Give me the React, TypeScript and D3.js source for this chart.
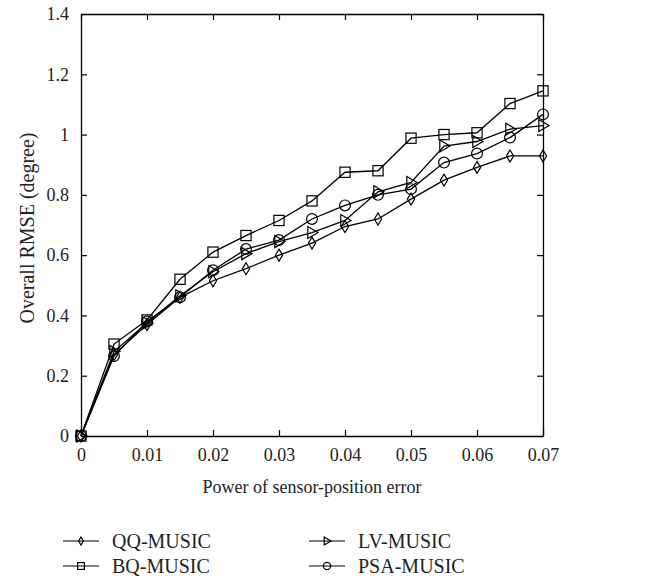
import React, { useRef, useEffect } from 'react';
import * as d3 from 'd3';

const xValues = [0, 0.005, 0.01, 0.015, 0.02, 0.025, 0.03, 0.035, 0.04, 0.045, 0.05, 0.055, 0.06, 0.065, 0.07];
const qqMusic = [0, 0.27, 0.37, 0.46, 0.515, 0.555, 0.6, 0.64, 0.695, 0.72, 0.786, 0.849, 0.891, 0.929, 0.929];
const bqMusic = [0, 0.305, 0.385, 0.52, 0.61, 0.665, 0.715, 0.78, 0.875, 0.88, 0.988, 1.0, 1.006, 1.103, 1.145];
const lvMusic = [0, 0.28, 0.375, 0.465, 0.545, 0.605, 0.645, 0.675, 0.715, 0.81, 0.841, 0.962, 0.977, 1.018, 1.03];
const psaMusic = [0, 0.265, 0.38, 0.46, 0.55, 0.62, 0.65, 0.72, 0.765, 0.8, 0.819, 0.907, 0.937, 0.99, 1.067];

const xTicks = [0, 0.01, 0.02, 0.03, 0.04, 0.05, 0.06, 0.07];
const yTicks = [0, 0.2, 0.4, 0.6, 0.8, 1, 1.2, 1.4];

const series = [
  { name: 'QQ-MUSIC', values: qqMusic, marker: 'diamond' },
  { name: 'BQ-MUSIC', values: bqMusic, marker: 'square' },
  { name: 'LV-MUSIC', values: lvMusic, marker: 'triangle' },
  { name: 'PSA-MUSIC', values: psaMusic, marker: 'circle' },
];

const FONT = '"Liberation Serif", "DejaVu Serif", serif';

// draws a marker centred on (0,0) inside g
function drawMarker(g: any, type: string, s: number) {
  const common = (sel: any) => sel.attr('fill', 'none').attr('stroke', '#000').attr('stroke-width', 1.2);
  if (type === 'diamond') {
    common(g.append('path').attr('d', `M0,${-s}L${s * 0.6},0L0,${s}L${-s * 0.6},0Z`));
  } else if (type === 'square') {
    common(g.append('rect').attr('x', -s * 0.85).attr('y', -s * 0.85).attr('width', s * 1.7).attr('height', s * 1.7));
  } else if (type === 'triangle') {
    common(g.append('path').attr('d', `M${-s * 0.7},${-s}L${s},0L${-s * 0.7},${s}Z`));
  } else {
    common(g.append('circle').attr('r', s * 0.9));
  }
}

const Chart = () => {
  const svgRef = useRef<SVGSVGElement>(null);

  useEffect(() => {
    const svg = d3.select(svgRef.current);
    svg.selectAll('*').remove();

    const left = 81, right = 543, top = 14, bottom = 436;

    const x = d3.scaleLinear().domain([0, 0.07]).range([left, right]);
    const y = d3.scaleLinear().domain([0, 1.4]).range([bottom, top]);

    const axisStyle = (g: any) => {
      g.select('.domain').attr('stroke', '#000').attr('stroke-width', 1.3);
      g.selectAll('.tick line').attr('stroke', '#000').attr('stroke-width', 1.2);
      g.selectAll('.tick text').attr('font-family', FONT).attr('font-size', 18).attr('fill', '#222');
    };

    svg.append('g')
      .attr('transform', `translate(0,${bottom})`)
      .call(d3.axisBottom(x).tickValues(xTicks).tickSizeInner(-6).tickSizeOuter(0).tickPadding(12).tickFormat((d: any) => (d === 0 ? '0' : d3.format('.2f')(d))))
      .call(axisStyle);

    svg.append('g')
      .attr('transform', `translate(0,${top})`)
      .call(d3.axisTop(x).tickValues(xTicks).tickSizeInner(-6).tickSizeOuter(0).tickFormat(() => ''))
      .call(axisStyle);

    svg.append('g')
      .attr('transform', `translate(${left},0)`)
      .call(d3.axisLeft(y).tickValues(yTicks).tickSizeInner(-6).tickSizeOuter(0).tickPadding(12).tickFormat((d: any) => (d === 0 ? '0' : d3.format('.1~f')(d))))
      .call(axisStyle);

    svg.append('g')
      .attr('transform', `translate(${right},0)`)
      .call(d3.axisRight(y).tickValues(yTicks).tickSizeInner(-6).tickSizeOuter(0).tickFormat(() => ''))
      .call(axisStyle);

    // axis titles
    svg.append('text')
      .attr('x', (left + right) / 2)
      .attr('y', 493)
      .attr('text-anchor', 'middle')
      .attr('font-family', FONT)
      .attr('font-size', 18)
      .attr('fill', '#222')
      .text('Power of sensor-position error');

    svg.append('text')
      .attr('transform', `translate(34,${228}) rotate(-90)`)
      .attr('text-anchor', 'middle')
      .attr('font-family', FONT)
      .attr('font-size', 20)
      .attr('fill', '#222')
      .text('Overall RMSE (degree)');

    const line = d3.line<number>()
      .x((_, i) => x(xValues[i]))
      .y((d) => y(d));

    series.forEach((s) => {
      svg.append('path')
        .datum(s.values)
        .attr('d', line)
        .attr('fill', 'none')
        .attr('stroke', '#000')
        .attr('stroke-width', 1.3);

      s.values.forEach((v, i) => {
        const g = svg.append('g').attr('transform', `translate(${x(xValues[i])},${y(v)})`);
        drawMarker(g, s.marker, 6);
      });
    });

    // legend
    const legendPos = [
      { x: 63, y: 541 },
      { x: 63, y: 566 },
      { x: 309, y: 541 },
      { x: 309, y: 566 },
    ];
    series.forEach((s, i) => {
      const p = legendPos[i];
      const g = svg.append('g').attr('transform', `translate(${p.x},${p.y})`);
      g.append('line').attr('x1', 0).attr('x2', 36).attr('y1', 0).attr('y2', 0)
        .attr('stroke', '#000').attr('stroke-width', 1.2);
      const m = g.append('g').attr('transform', `translate(18,0)`);
      drawMarker(m, s.marker, 4);
      g.append('text')
        .attr('x', 49)
        .attr('y', 7)
        .attr('font-family', FONT)
        .attr('font-size', 20)
        .attr('fill', '#222')
        .text(s.name);
    });
  }, []);

  return <svg ref={svgRef} width={648} height={578} style={{ display: 'block', background: '#fff' }} />;
};

export default function App() {
  return (
    <div style={{ position: 'absolute', left: 0, top: 0 }}>
      <Chart />
    </div>
  );
}
